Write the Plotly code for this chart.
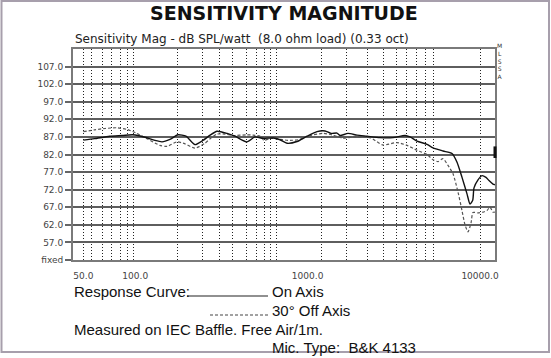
import plotly.graph_objects as go

# ---- data ----
on_freq = [50, 58, 71, 84, 97, 114, 130, 143, 159, 177, 197, 222, 247, 272, 298, 341, 379, 445, 495, 551,
           630, 692, 760, 868, 992, 1134, 1262, 1367, 1481, 1542, 1715, 1934, 2211, 2630, 3129, 3673, 3926,
           4312, 4927, 5338, 6101, 6880, 7358, 7865, 8406, 8750, 9072, 9230, 9738, 10273, 10833, 11277, 11895, 12200]
on_db = [86.1, 86.5, 87.2, 87.4, 87.6, 86.9, 86.0, 85.6, 86.3, 87.6, 87.2, 84.8, 86.0, 87.5, 88.6, 88.0, 87.2,
         85.6, 87.0, 86.6, 86.7, 86.2, 85.2, 85.7, 87.2, 88.5, 88.7, 88.0, 88.1, 87.4, 88.0, 87.5, 87.2, 86.8,
         86.8, 87.4, 87.0, 85.8, 84.9, 83.9, 83.0, 82.3, 79.8, 75.5, 70.8, 67.9, 69.0, 72.5, 74.8, 76.0, 75.5,
         74.6, 73.6, 73.4]

off_freq = [50, 58, 67, 78, 90, 102, 117, 139, 153, 175, 195, 222, 254, 272, 298, 332, 369, 445, 482, 530,
            559, 605, 692, 791, 904, 1033, 1229, 1404, 1605, 1833, 2302, 2738, 3300, 3772, 4312, 4927, 5338,
            5707, 6101, 6523, 6973, 7455, 7865, 8186, 8521, 8868, 9108, 9738, 10410, 10980, 11428, 11895, 12200]
off_db = [88.5, 89.0, 89.4, 89.6, 89.1, 88.0, 86.5, 84.6, 84.3, 85.6, 85.0, 83.8, 85.2, 86.5, 87.8, 87.8, 87.4,
          87.6, 87.5, 87.2, 86.0, 86.6, 86.3, 86.0, 86.3, 87.4, 88.0, 87.5, 86.6, 87.0, 86.8, 84.7, 85.4, 84.6,
          83.2, 82.0, 80.5, 80.0, 80.8, 78.9, 76.5, 71.3, 66.0, 62.0, 60.0, 62.5, 65.5, 65.4, 65.6, 66.1, 67.0,
          65.6, 65.6]

x_tickvals = [50, 100, 1000, 10000]
x_ticktext = ["50.0", "100.0", "1000.0", "10000.0"]
x_gridvals = [50, 56, 65, 73, 82, 90, 98, 176, 245, 310, 368, 443, 507, 559, 611, 662,
              1207, 1686, 2232, 2749, 3256, 3757, 4295, 4797, 5360, 10000]
y_tickvals = [52, 57, 62, 67, 72, 77, 82, 87, 92, 97, 102, 107]
y_ticktext = ["fixed", "57.0", "62.0", "67.0", "72.0", "77.0", "82.0", "87.0", "92.0", "97.0", "102.0", "107.0"]

W, H = 551, 358
L, R, T, B = 73, 495, 49, 260


def px(x):
    return (x - L) / (R - L)


def py(y):
    return (B - y) / (B - T)


fig = go.Figure()
fig.add_trace(go.Scatter(x=off_freq, y=off_db, mode="lines", name="30° Off Axis",
                         line=dict(color="#555555", width=1.2, dash="3px,2px", shape="spline", smoothing=0.6)))
fig.add_trace(go.Scatter(x=on_freq, y=on_db, mode="lines", name="On Axis",
                         line=dict(color="#111111", width=1.4, shape="spline", smoothing=0.6)))

tick_font = dict(family="DejaVu Sans", size=9, color="#444444")
text_font = dict(family="Liberation Sans, Arial", size=15, color="#111111")

fig.update_layout(
    width=W, height=H,
    margin=dict(l=L, r=W - R, t=T, b=H - B),
    paper_bgcolor="white", plot_bgcolor="white",
    showlegend=False,
    xaxis=dict(type="log", range=[1.639, 4.087], tickmode="array", tickvals=x_tickvals, ticktext=x_ticktext,
               showgrid=False, zeroline=False, ticks="", tickfont=tick_font, ticklabelstandoff=6,
               showline=True, mirror=True, linecolor="#7a7a7a", linewidth=2,
               minor=dict(tickmode="array", tickvals=x_gridvals, showgrid=True, gridcolor="#222222",
                          griddash="1px,2px", gridwidth=1, ticks="")),
    yaxis=dict(range=[52, 112], tickmode="array", tickvals=y_tickvals, ticktext=y_ticktext,
               showgrid=True, gridcolor="#5e5e5e", gridwidth=1.5, zeroline=False,
               ticks="outside", ticklen=6, tickwidth=1.5, tickcolor="#666666", tickfont=tick_font,
               showline=True, mirror=True, linecolor="#7a7a7a", linewidth=2),
)

shapes = [
    # picture frame
    dict(type="rect", xref="paper", yref="paper", x0=px(1.5), x1=px(549), y0=py(352), y1=py(1),
         line=dict(color="#a79fac", width=2), layer="below"),
    # small marker on right border
    dict(type="line", xref="paper", yref="y", x0=1.0, x1=1.0, y0=81.0, y1=84.3,
         line=dict(color="#111111", width=3)),
    # legend samples
    dict(type="line", xref="paper", yref="paper", x0=px(187), x1=px(268), y0=py(296), y1=py(296),
         line=dict(color="#222222", width=1.2)),
    dict(type="line", xref="paper", yref="paper", x0=px(210), x1=px(268), y0=py(315), y1=py(315),
         line=dict(color="#444444", width=1.2, dash="3px,2px")),
]
fig.update_layout(shapes=shapes)

ann = [
    dict(text="<b>SENSITIVITY MAGNITUDE</b>", x=px(284), y=py(13), xanchor="center", yanchor="middle",
         font=dict(family="DejaVu Sans", size=19, color="#111111")),
    dict(text="Sensitivity Mag - dB SPL/watt\u00a0 (8.0 ohm load) (0.33 oct)", x=px(73), y=py(38.5),
         xanchor="left", yanchor="middle", font=dict(family="DejaVu Sans", size=12, color="#222222")),
    dict(text="M<br>L<br>S<br>S<br>A", x=px(500), y=py(61), xanchor="center", yanchor="middle",
         font=dict(family="DejaVu Sans", size=6, color="#333333")),
    dict(text="Response Curve:", x=px(72), y=py(291), xanchor="left", yanchor="middle", font=text_font),
    dict(text="On Axis", x=px(270), y=py(291), xanchor="left", yanchor="middle", font=text_font),
    dict(text="30° Off Axis", x=px(270), y=py(310), xanchor="left", yanchor="middle", font=text_font),
    dict(text="Measured on IEC Baffle. Free Air/1m.", x=px(72), y=py(329), xanchor="left", yanchor="middle",
         font=text_font),
    dict(text="Mic. Type:\u00a0 B&K 4133", x=px(270), y=py(347), xanchor="left", yanchor="middle",
         font=text_font),
]
for a in ann:
    a.update(xref="paper", yref="paper", showarrow=False)
fig.update_layout(annotations=ann)

fig.write_html("out.html", config={"displayModeBar": False},
               post_script="document.body.style.margin='0';")
